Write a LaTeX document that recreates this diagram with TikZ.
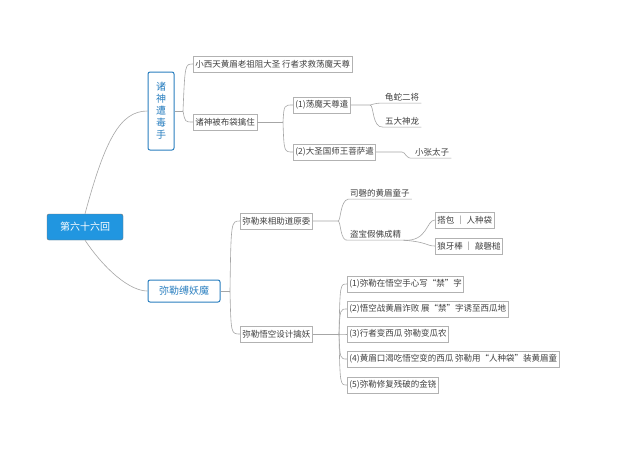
\documentclass[tikz,border=0pt]{standalone}
\usepackage{fontspec}
\setmainfont{Noto Sans CJK SC}
\definecolor{rootblue}{HTML}{2196E0}
\definecolor{mainblue}{HTML}{2A7FC0}
\begin{document}
\begin{tikzpicture}[x=1pt,y=-1pt,
  every node/.style={font=\fontsize{8.5}{10}\selectfont,text=black!75,inner sep=2pt},
  bx/.style={draw=black!30,line width=0.6pt,anchor=west,minimum height=16pt},
  ul/.style={anchor=west},
  cn/.style={draw=black!35,line width=0.6pt},
  root/.style={fill=rootblue,draw=black!55,rounded corners=2pt,text=white,minimum width=76pt,minimum height=26pt,font=\fontsize{10}{12}\selectfont},
  main/.style={draw=mainblue,line width=1pt,rounded corners=2pt,text=mainblue,font=\fontsize{10}{12}\selectfont,fill=white}]
\useasboundingbox (0,0) rectangle (640,451);
\fill[white] (0,0) rectangle (640,451);
\node[root] (r) at (85,227) {第六十六回};
\node[main,minimum width=26pt,minimum height=78pt,align=center] (a) at (161,111) {诸\\神\\遭\\毒\\手};
\node[main,minimum width=72pt,minimum height=22pt] (b) at (184,291) {弥勒缚妖魔};
\draw[cn] (r.north) .. controls (105,140) and (120,111) .. (a.west);
\draw[cn] (r.south) .. controls (105,270) and (130,291) .. (b.west);
% upper
\node[bx] (a1) at (193,64) {小西天黄眉老祖阻大圣 行者求救荡魔天尊};
\node[bx] (a2) at (193,122) {诸神被布袋擒住};
\coordinate (ja) at (183,111);
\draw[cn] (a.east) -- (ja);
\draw[cn] (ja) .. controls (185,64) .. (a1.west);
\draw[cn] (ja) .. controls (185,122) .. (a2.west);
\node[bx] (a21) at (293,105) {(1)荡魔天尊遣};
\node[bx] (a22) at (293,152) {(2)大圣国师王菩萨遣};
\coordinate (jb) at (283,122);
\draw[cn] (a2.east) -- (jb);
\draw[cn] (jb) .. controls (284,105) .. (a21.west);
\draw[cn] (jb) .. controls (284,152) .. (a22.west);
\node[ul] (g1) at (383,97) {龟蛇二将};
\node[ul] (g2) at (383,121) {五大神龙};
\draw[cn] (a21.east) -- (370,105) .. controls (374,105) and (372,103) .. (g1.south west) -- (g1.south east);
\draw[cn] (370,105) .. controls (374,105) and (372,128) .. (g2.south west) -- (g2.south east);
\node[ul] (g3) at (413,152) {小张太子};
\draw[cn] (a22.east) -- (402,152) .. controls (406,152) and (405,159) .. (g3.south west) -- (g3.south east);
% lower
\node[bx] (b1) at (240,221) {弥勒来相助道原委};
\node[bx] (b2) at (240,334) {弥勒悟空设计擒妖};
\coordinate (jc) at (230,291);
\draw[cn] (b.east) -- (jc);
\draw[cn] (jc) .. controls (231,221) .. (b1.west);
\draw[cn] (jc) .. controls (231,334) .. (b2.west);
\node[ul] (c1) at (348,193) {司磬的黄眉童子};
\node[ul] (c2) at (348,234) {盗宝假佛成精};
\draw[cn] (b1.east) -- (338,221) .. controls (341,221) and (340,201) .. (c1.south west) -- (c1.south east);
\draw[cn] (338,221) .. controls (341,221) and (340,242) .. (c2.south west) -- (c2.south east);
\node[bx] (d1) at (435,220) {搭包 ｜ 人种袋};
\node[bx] (d2) at (435,246) {狼牙棒 ｜ 敲磬槌};
\draw[cn] (c2.south east) .. controls (428,242) and (426,220) .. (d1.west);
\draw[cn] (c2.south east) .. controls (428,242) and (426,246) .. (d2.west);
\coordinate (jd) at (339,334);
\draw[cn] (b2.east) -- (jd);
\foreach \n/\y/\t in {1/284/{(1)弥勒在悟空手心写“禁”字},2/309/{(2)悟空战黄眉诈败 展“禁”字诱至西瓜地},3/334/{(3)行者变西瓜 弥勒变瓜农},4/359/{(4)黄眉口渴吃悟空变的西瓜 弥勒用“人种袋”装黄眉童},5/385/{(5)弥勒修复残破的金铙}}{
  \node[bx] (e\n) at (347,\y) {\t};
  \draw[cn] (jd) .. controls (340,\y) .. (e\n.west);
}
\end{tikzpicture}
\end{document}
